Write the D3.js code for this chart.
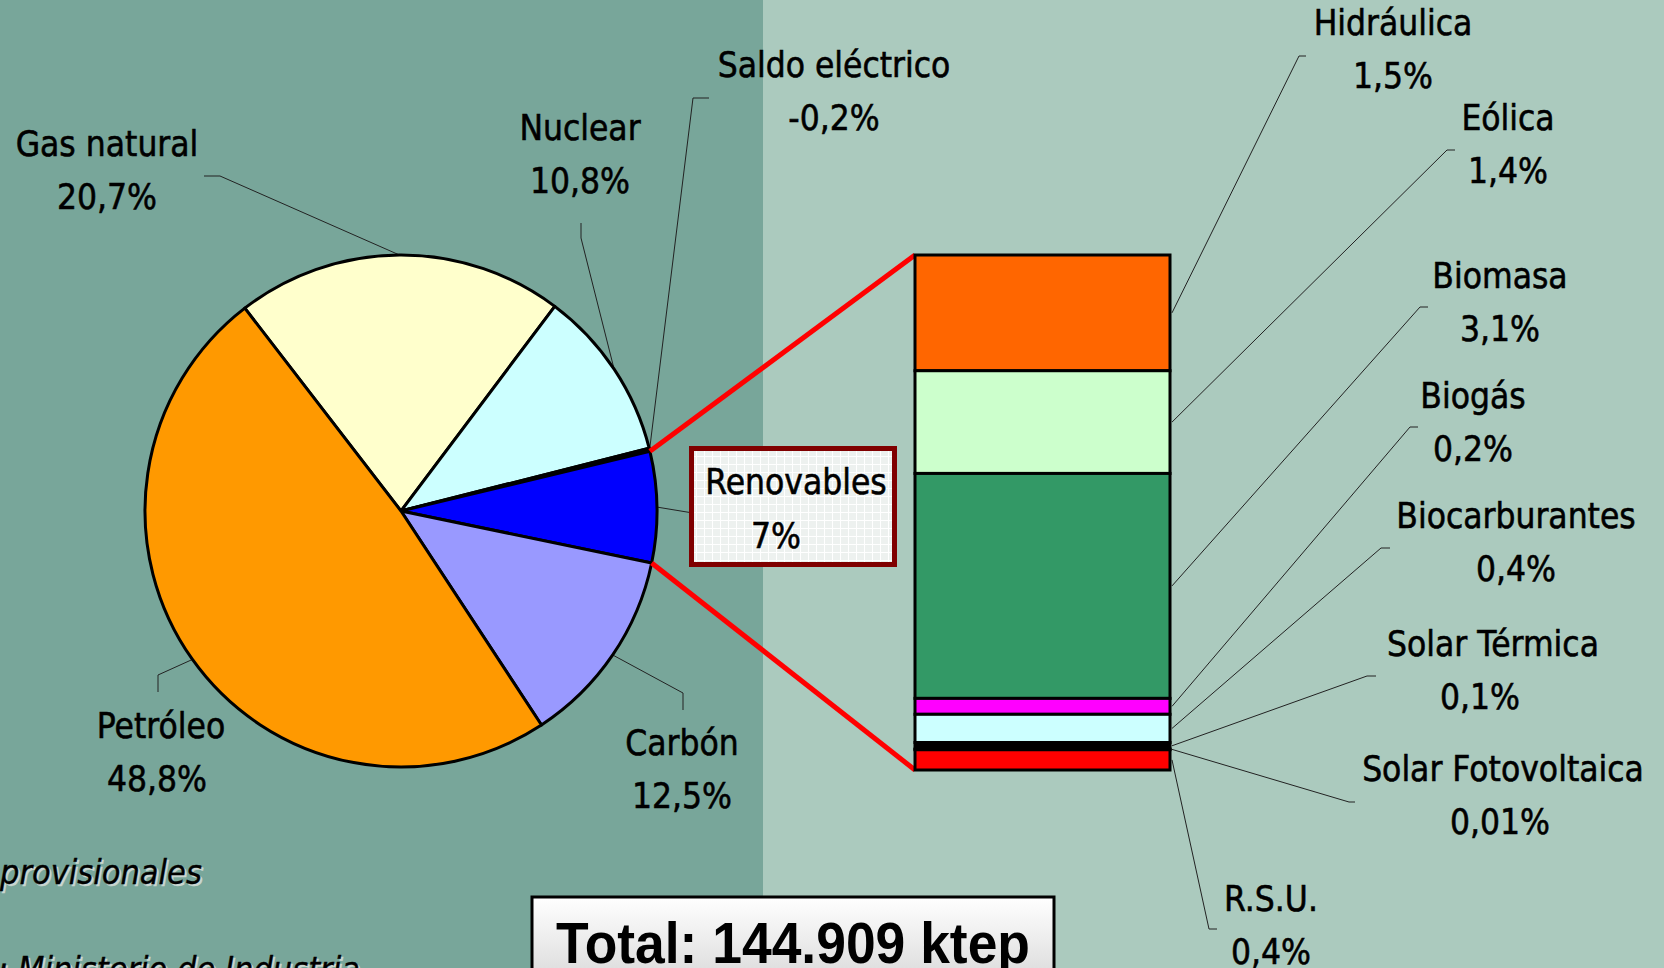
<!DOCTYPE html>
<html lang="es">
<head>
<meta charset="utf-8">
<title>Consumo de energía primaria</title>
<script src="https://cdn.jsdelivr.net/npm/d3@7"></script>
<style>
  html, body { margin: 0; padding: 0; overflow: hidden; background: #78A69A; }
  svg { display: block; }
</style>
</head>
<body>
<svg id="chart"></svg>
<script>
// Energía primaria por fuente (pie)
const pieNames = ["Gas natural", "Nuclear", "Saldo eléctrico", "Renovables", "Carbón", "Petróleo"];
const pieValues = [20.7, 10.8, 0.2, 7, 12.5, 48.8];
const pieLabels = ["20,7%", "10,8%", "-0,2%", "7%", "12,5%", "48,8%"];

// Desglose de renovables (barra)
const renNames = ["Hidráulica", "Eólica", "Biomasa", "Biogás", "Biocarburantes", "Solar Térmica", "Solar Fotovoltaica", "R.S.U."];
const renValues = [1.6, 1.42, 3.11, 0.22, 0.39, 0.09, 0.01, 0.28];
const renLabels = ["1,5%", "1,4%", "3,1%", "0,2%", "0,4%", "0,1%", "0,01%", "0,4%"];

const totalText = "Total: 144.909 ktep";
const noteText = "provisionales";
const sourceText = ": Ministerio de Industria";

document.addEventListener('DOMContentLoaded', () => {
    const W = 1664, H = 968;
    const pieColors = ["#FFFFCC", "#CCFFFF", "#0000FF", "#0000FF", "#9999FF", "#FF9900"];
    const renColors = ["#FF6600", "#CCFFCC", "#339966", "#FF00FF", "#CCFFFF", "#000000", "#000000", "#FF0000"];

    // label placement (name baseline, elbow points of the leader line)
    const lineGap = 53;
    const pieLayout = [
        { x: 107, px: 107, y: 156, elbow: [[220, 176], [204, 176]] },
        { x: 580, px: 580, y: 140, elbow: [[581, 238], [581, 223]] },
        { x: 834, px: 834, y: 77, elbow: [[693, 98], [709, 98]] },
        { x: 796, px: 776, y: 494, elbow: [[699, 514]] },
        { x: 682, px: 682, y: 755, elbow: [[683, 693], [683, 710]] },
        { x: 161, px: 157, y: 738, elbow: [[158, 675], [158, 692]] }
    ];
    const renLayout = [
        { x: 1393, px: 1393, y: 35, elbow: [[1299, 56], [1306, 56]] },
        { x: 1508, px: 1508, y: 130, elbow: [[1447, 150], [1455, 150]] },
        { x: 1500, px: 1500, y: 288, elbow: [[1420, 307], [1428, 307]] },
        { x: 1473, px: 1473, y: 408, elbow: [[1410, 427], [1418, 427]] },
        { x: 1516, px: 1516, y: 528, elbow: [[1381, 548], [1390, 548]] },
        { x: 1493, px: 1480, y: 656, elbow: [[1367, 676], [1376, 676]] },
        { x: 1503, px: 1500, y: 781, elbow: [[1349, 802], [1355, 802]] },
        { x: 1271, px: 1271, y: 911, elbow: [[1209, 929], [1217, 929]] }
    ];

    const svg = d3.select("#chart").attr("width", W).attr("height", H);
    const defs = svg.append("defs");

    // Background panels
    svg.append("rect").attr("x", 0).attr("y", 0).attr("width", 763).attr("height", H).attr("fill", "#78A69A");
    svg.append("rect").attr("x", 763).attr("y", 0).attr("width", W - 763).attr("height", H).attr("fill", "#ABCABE");

    // Pie
    const cx = 401, cy = 511, r = 256;
    const start = -37.6 * Math.PI / 180;
    const pie = d3.pie().sort(null).startAngle(start).endAngle(start + 2 * Math.PI);
    const arcs = pie(pieValues);
    const arc = d3.arc().innerRadius(0).outerRadius(r);
    const onEdge = a => [cx + r * Math.sin(a), cy - r * Math.cos(a)];

    const line = d3.line();
    const leaders = svg.append("g")
        .attr("fill", "none")
        .attr("stroke", "#222")
        .attr("stroke-width", 1);

    arcs.forEach((a, i) => {
        const p = onEdge((a.startAngle + a.endAngle) / 2);
        leaders.append("path").attr("d", line([p, ...pieLayout[i].elbow]));
    });

    svg.append("g")
        .attr("transform", `translate(${cx},${cy})`)
        .selectAll("path")
        .data(arcs)
        .enter()
        .append("path")
        .attr("d", arc)
        .attr("fill", (d, i) => pieColors[i])
        .attr("stroke", "#000")
        .attr("stroke-width", 3)
        .attr("stroke-linejoin", "round");

    // Stacked bar for renewables
    const barLeft = 915, barRight = 1170, barTop = 255, barBottom = 770;
    const y = d3.scaleLinear().domain([0, d3.sum(renValues)]).range([barTop, barBottom]);
    const cum = [0, ...d3.cumsum(renValues)];
    const segs = renValues.map((v, i) => ({ y0: cum[i], y1: cum[i + 1] }));

    // Red connectors from the Renovables slice to the bar
    const ren = arcs[3];
    const redLines = [
        [onEdge(ren.startAngle), [barLeft, y(0)]],
        [onEdge(ren.endAngle), [barLeft, y(d3.sum(renValues))]]
    ];
    svg.append("g")
        .selectAll("path")
        .data(redLines)
        .enter()
        .append("path")
        .attr("d", d => line(d))
        .attr("stroke", "#FF0000")
        .attr("stroke-width", 5)
        .attr("fill", "none");

    segs.forEach((s, i) => {
        const mid = (y(s.y0) + y(s.y1)) / 2;
        leaders.append("path").attr("d", line([[barRight + 2, mid], ...renLayout[i].elbow]));
    });

    svg.append("g")
        .selectAll("rect")
        .data(segs)
        .enter()
        .append("rect")
        .attr("x", barLeft)
        .attr("y", d => y(d.y0))
        .attr("width", barRight - barLeft)
        .attr("height", d => y(d.y1) - y(d.y0))
        .attr("fill", (d, i) => renColors[i])
        .attr("stroke", "#000")
        .attr("stroke-width", 3);

    // Renovables label box with a faint grid texture
    const pat = defs.append("pattern")
        .attr("id", "grid")
        .attr("width", 8).attr("height", 8)
        .attr("patternUnits", "userSpaceOnUse");
    pat.append("rect").attr("width", 8).attr("height", 8).attr("fill", "#EDF1EF");
    pat.append("path").attr("d", "M0,0.5H8M0.5,0V8").attr("stroke", "#FFFFFF").attr("stroke-width", 1);

    svg.append("rect")
        .attr("x", 691.5).attr("y", 448.5)
        .attr("width", 203).attr("height", 116)
        .attr("fill", "url(#grid)")
        .attr("stroke", "#800000")
        .attr("stroke-width", 5);

    // Labels
    const labelFont = "'DejaVu Sans', Verdana, sans-serif";
    const addLabel = (g, txt, x, yy, size) => {
        g.append("text")
            .attr("transform", `translate(${x},${yy}) scale(0.9,1)`)
            .attr("text-anchor", "middle")
            .style("font-family", labelFont)
            .style("font-size", `${size}px`)
            .style("fill", "#000")
            .style("stroke", "#000")
            .style("stroke-width", 0.6)
            .text(txt);
    };
    const labels = svg.append("g");
    pieNames.forEach((n, i) => {
        const L = pieLayout[i];
        const size = i === 3 ? 35 : 35;
        addLabel(labels, n, L.x, L.y, size);
        addLabel(labels, pieLabels[i], L.px, L.y + (i === 3 ? 54 : lineGap), size);
    });
    renNames.forEach((n, i) => {
        const L = renLayout[i];
        addLabel(labels, n, L.x, L.y, 35);
        addLabel(labels, renLabels[i], L.px, L.y + lineGap, 35);
    });

    // Total box
    const grad = defs.append("linearGradient").attr("id", "totalGrad")
        .attr("x1", 0).attr("y1", 0).attr("x2", 0).attr("y2", 1);
    grad.append("stop").attr("offset", "0%").attr("stop-color", "#FFFFFF");
    grad.append("stop").attr("offset", "100%").attr("stop-color", "#D8D8D8");

    svg.append("rect")
        .attr("x", 532).attr("y", 897)
        .attr("width", 522).attr("height", 90)
        .attr("fill", "url(#totalGrad)")
        .attr("stroke", "#000")
        .attr("stroke-width", 3);

    svg.append("text")
        .attr("x", 793).attr("y", 963)
        .attr("text-anchor", "middle")
        .attr("textLength", 474)
        .attr("lengthAdjust", "spacingAndGlyphs")
        .style("font-family", "'Liberation Sans', Arial, sans-serif")
        .style("font-weight", "bold")
        .style("font-size", "58px")
        .text(totalText);

    // Notes (italic with a light shadow)
    const note = (txt, x, yy) => {
        [["#C9D6D1", 2], ["#000", 0]].forEach(([c, off]) => {
            svg.append("text")
                .attr("transform", `translate(${x + off},${yy + off}) scale(0.9,1)`)
                .style("font-family", labelFont)
                .style("font-style", "italic")
                .style("font-size", "34px")
                .style("fill", c)
                .style("stroke", c)
                .style("stroke-width", 0.4)
                .text(txt);
        });
    };
    note(noteText, 0, 884);
    note(sourceText, -2, 981);
});
</script>
</body>
</html>
